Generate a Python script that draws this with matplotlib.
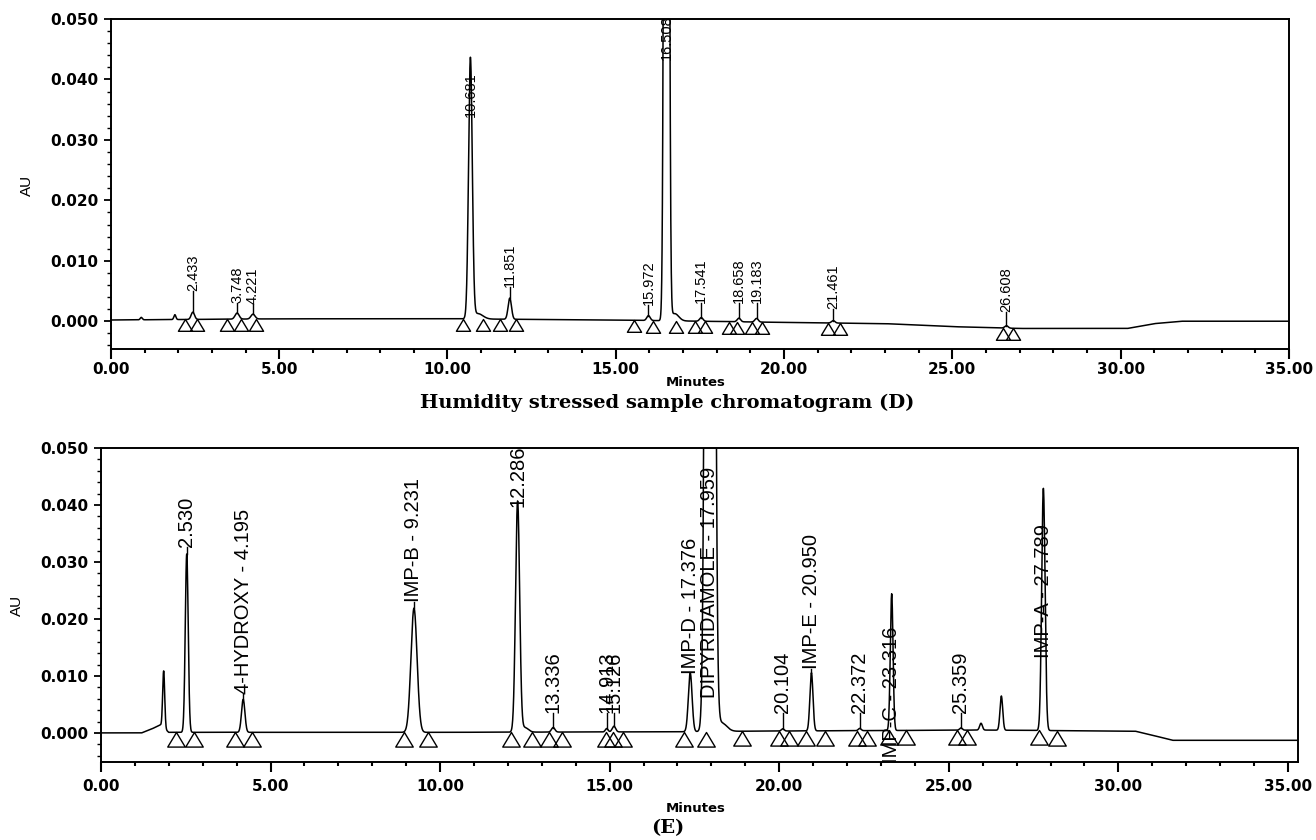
import numpy as np
import matplotlib
matplotlib.use("Agg")
import matplotlib.pyplot as plt
from matplotlib.path import Path
from matplotlib.ticker import MultipleLocator, FormatStrFormatter

# chromatogram D (humidity stressed sample)
D_peak_times = [0.9, 1.9, 2.433, 3.748, 4.221, 10.681, 10.9, 11.851, 15.972, 16.508, 16.75,
                17.541, 18.658, 19.183, 21.461, 26.608]
D_peak_heights = [0.0004, 0.0008, 0.0012, 0.0010, 0.0008, 0.0430, 0.0009, 0.0035, 0.0008, 0.40, 0.0012,
                  0.0006, 0.0006, 0.0006, 0.0004, 0.0004]
D_peak_widths = [0.03, 0.03, 0.05, 0.06, 0.06, 0.055, 0.15, 0.05, 0.05, 0.05, 0.12,
                 0.05, 0.05, 0.05, 0.05, 0.05]
D_base_t = [0, 5, 10, 15, 20, 23, 25, 27, 30.2, 31.0, 31.8, 35]
D_base_y = [0.0002, 0.0004, 0.0004, 0.0002, -0.0002, -0.0004, -0.0009, -0.0012, -0.0012, -0.0004, 0.0, 0.0]
D_triangles = [2.2, 2.55, 3.45, 3.85, 4.3, 10.45, 11.05, 11.55, 12.05, 15.55, 16.1, 16.8, 17.35, 17.65,
               18.35, 18.6, 19.05, 19.35, 21.3, 21.65, 26.5, 26.8]
D_labels = ["2.433", "3.748", "4.221", "10.681", "11.851", "15.972", "16.508", "17.541",
            "18.658", "19.183", "21.461", "26.608"]
D_label_times = [2.433, 3.748, 4.221, 10.681, 11.851, 15.972, 16.508, 17.541, 18.658, 19.183, 21.461, 26.608]
D_label_y = [0.0050, 0.0030, 0.0028, 0.0338, 0.0056, 0.0026, 0.0432, 0.0030, 0.0030, 0.0030, 0.0021, 0.0015]

# chromatogram E
E_peak_times = [1.85, 2.530, 4.195, 9.231, 12.286, 12.5, 13.336, 14.913, 15.126, 17.376, 17.959, 18.3,
                20.104, 20.950, 22.372, 23.316, 25.359, 25.95, 26.55, 27.789]
E_peak_heights = [0.0100, 0.0313, 0.0058, 0.0218, 0.0405, 0.0008, 0.0008, 0.0006, 0.0010, 0.0103, 0.60, 0.0015,
                  0.0004, 0.0102, 0.0004, 0.0240, 0.0004, 0.0012, 0.0060, 0.0425]
E_peak_widths = [0.03, 0.043, 0.05, 0.09, 0.06, 0.10, 0.05, 0.04, 0.05, 0.055, 0.085, 0.15,
                 0.04, 0.045, 0.04, 0.04, 0.04, 0.04, 0.04, 0.05]
E_base_t = [0, 1.2, 1.5, 1.75, 2.0, 10, 17, 19, 26, 30.5, 31.0, 31.6, 35.3]
E_base_y = [0.0, 0.0, 0.0007, 0.0014, 0.0001, 0.0001, 0.0002, 0.0003, 0.0005, 0.0003, -0.0004, -0.0013, -0.0013]
E_triangles = [2.2, 2.75, 3.95, 4.45, 8.95, 9.65, 12.1, 12.7, 13.2, 13.6, 14.9, 15.1, 15.4, 17.2, 17.85,
               18.9, 20.0, 20.3, 20.8, 21.35, 22.3, 22.6, 23.25, 23.75, 25.25, 25.55, 27.65, 28.2]
E_labels = ["2.530", "4-HYDROXY - 4.195", "IMP-B - 9.231", "12.286", "13.336", "14.913", "15.126",
            "IMP-D - 17.376", "DIPYRIDAMOLE - 17.959", "20.104", "IMP-E - 20.950", "22.372",
            "IMP-C - 23.316", "25.359", "IMP-A - 27.789"]
E_label_times = [2.530, 4.195, 9.231, 12.286, 13.336, 14.913, 15.126, 17.376, 17.959, 20.104, 20.950,
                 22.372, 23.316, 25.359, 27.789]
E_label_y = [0.0326, 0.0069, 0.0229, 0.0396, 0.0035, 0.0035, 0.0035, 0.0104, 0.0062, 0.0035, 0.0113,
             0.0035, -0.0053, 0.0035, 0.0132]

TRI = Path([(0, 0), (-0.6, -1), (0.6, -1), (0, 0)], closed=True)
plt.rcParams['font.family'] = ['DejaVu Sans']


def make_trace(t, times, heights, widths, base_t, base_y):
    y = np.interp(t, base_t, base_y)
    for c, h, w in zip(times, heights, widths):
        y = y + h * np.exp(-0.5 * ((t - c) / w) ** 2)
    return y


def draw_panel(ax, t, y, base_t, base_y, tri, labels, label_t, label_y, lab_size, tri_size, xmax, ymin, xpad):
    ax.plot(t, y, color="black", lw=1.1)
    # peak start/end marks sit on the baseline
    ax.plot(tri, np.interp(tri, base_t, base_y), linestyle="none", marker=TRI, ms=tri_size,
            mfc="none", mec="black", mew=1.0)
    for lab, lt, ly in zip(labels, label_t, label_y):
        apex = np.interp(lt, t, y)
        if ly > apex:
            ax.plot([lt, lt], [apex, ly], color="black", lw=1.0)
        ax.text(lt, ly, lab, rotation=90, ha="center", va="bottom", fontsize=lab_size,
                family="Liberation Sans", clip_on=False)
    ax.set_xlim(0, xmax)
    ax.set_ylim(ymin, 0.050)
    ax.xaxis.set_major_locator(MultipleLocator(5))
    ax.xaxis.set_minor_locator(MultipleLocator(1))
    ax.yaxis.set_major_locator(MultipleLocator(0.01))
    ax.yaxis.set_minor_locator(MultipleLocator(0.002))
    ax.xaxis.set_major_formatter(FormatStrFormatter("%.2f"))
    ax.yaxis.set_major_formatter(FormatStrFormatter("%.3f"))
    ax.tick_params(axis="x", which="major", direction="out", length=7, width=1.5, pad=xpad)
    ax.tick_params(axis="x", which="minor", direction="out", length=3, width=1.5)
    ax.tick_params(axis="y", which="major", direction="out", length=5, width=1.3, pad=4)
    ax.tick_params(axis="y", which="minor", direction="out", length=3, width=1.0)
    for lab in ax.get_xticklabels() + ax.get_yticklabels():
        lab.set_fontweight("bold")
        lab.set_fontsize(11)
    for sp in ax.spines.values():
        sp.set_linewidth(1.4)


fig = plt.figure(figsize=(13.16, 8.4), dpi=100)

ax1 = fig.add_axes([0.0843, 0.5845, 0.8951, 0.3929])
tD = np.linspace(0, 35, 7001)
yD = make_trace(tD, D_peak_times, D_peak_heights, D_peak_widths, D_base_t, D_base_y)
draw_panel(ax1, tD, yD, D_base_t, D_base_y, D_triangles, D_labels, D_label_times, D_label_y,
           10.5, 17, 35, -0.0046, 2)

ax2 = fig.add_axes([0.0767, 0.0929, 0.9097, 0.3738])
tE = np.linspace(0, 35.3, 7061)
yE = make_trace(tE, E_peak_times, E_peak_heights, E_peak_widths, E_base_t, E_base_y)
draw_panel(ax2, tE, yE, E_base_t, E_base_y, E_triangles, E_labels, E_label_times, E_label_y,
           14.5, 21, 35.3, -0.0051, 5)

fig.text(27 / 1316, 1 - 185 / 840, "AU", rotation=90, ha="center", va="center", fontsize=11,
         family="Liberation Sans")
fig.text(17 / 1316, 1 - 605 / 840, "AU", rotation=90, ha="center", va="center", fontsize=11,
         family="Liberation Sans")
fig.text(696 / 1316, 1 - 383 / 840, "Minutes", ha="center", va="center", fontsize=9.5, fontweight="bold")
fig.text(696 / 1316, 1 - 808 / 840, "Minutes", ha="center", va="center", fontsize=9.5, fontweight="bold")
fig.text(667 / 1316, 1 - 403 / 840, "Humidity stressed sample chromatogram (D)", ha="center", va="center",
         fontsize=14, fontweight="bold", family="DejaVu Serif")
fig.text(668 / 1316, 1 - 828 / 840, "(E)", ha="center", va="center", fontsize=14, fontweight="bold",
         family="DejaVu Serif")

fig.savefig("out.png", dpi=100)
